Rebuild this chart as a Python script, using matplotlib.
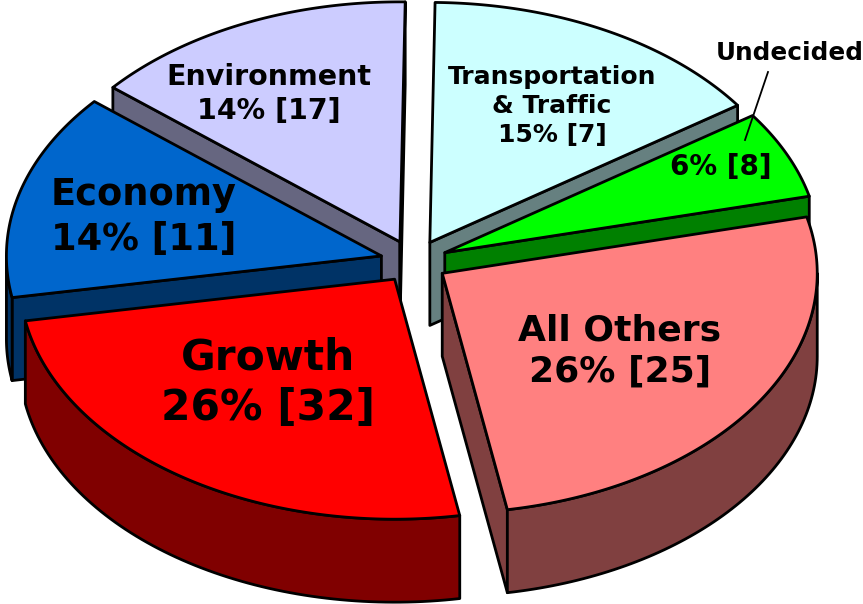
import numpy as np
import matplotlib
matplotlib.use("Agg")
import matplotlib.pyplot as plt
from matplotlib.patches import Polygon

# clockwise from the top of the pie
categories = ["Transportation\n& Traffic", "Undecided", "All Others", "Growth", "Economy", "Environment"]
percents = [15, 6, 26, 26, 14, 14]
counts = [7, 8, 25, 32, 11, 17]
# slice sizes as measured on the picture, the printed percents are rounded
shares = [15.1, 5.9, 26.0, 25.0, 13.9, 14.1]

top_colors = ["#CCFFFF", "#00FF00", "#FF8080", "#FF0000", "#0066CC", "#CCCCFF"]
side_colors = ["#668080", "#008000", "#804040", "#800000", "#003366", "#666680"]

cx, cy = 414, 261.5
rx, ry = 375, 240
explode = 0.09
depth = 83
start = 0.8

# back to front
draw_order = [5, 0, 1, 4, 2, 3]

fig = plt.figure(figsize=(8.63, 6.04), dpi=100)
ax = fig.add_axes([0, 0, 1, 1])
ax.set_xlim(0, 863)
ax.set_ylim(604, 0)
ax.axis("off")


def rim(t, ax0, ay0):
    t = np.radians(t)
    return np.column_stack([ax0 + rx * np.sin(t), ay0 - ry * np.cos(t)])


edges = start + np.cumsum([0] + shares) * 360 / sum(shares)

for z, i in enumerate(draw_order):
    t0, t1 = edges[i], edges[i + 1]
    mid = np.radians((t0 + t1) / 2)
    ax0 = cx + explode * rx * np.sin(mid)
    ay0 = cy - explode * ry * np.cos(mid)
    kw = dict(ec="black", lw=2, joinstyle="round", zorder=z + 1)
    down = np.array([0, depth])
    apex = np.array([ax0, ay0])

    # radial walls that face the viewer
    if np.sin(np.radians(t0)) < 0:
        p = rim(np.array([t0]), ax0, ay0)[0]
        ax.add_patch(Polygon([apex, p, p + down, apex + down], fc=side_colors[i], **kw))
    if np.sin(np.radians(t1)) > 0:
        p = rim(np.array([t1]), ax0, ay0)[0]
        ax.add_patch(Polygon([apex, p, p + down, apex + down], fc=side_colors[i], **kw))

    # outer wall, front half only
    a, b = max(t0, 90), min(t1, 270)
    if b > a:
        arc = rim(np.linspace(a, b, 80), ax0, ay0)
        ax.add_patch(Polygon(np.vstack([arc, arc[::-1] + down]), fc=side_colors[i], **kw))

    arc = rim(np.linspace(t0, t1, 120), ax0, ay0)
    ax.add_patch(Polygon(np.vstack([apex, arc]), fc=top_colors[i], **kw))

font = "DejaVu Sans"
label_pos = [(552, 106), (721, 167), (620, 351), (268, 383), (144, 217), (269, 94)]
label_size = [18, 20, 26, 30.5, 26.5, 20.5]
for i in range(len(categories)):
    if categories[i] == "Undecided":
        s = "%d%% [%d]" % (percents[i], counts[i])
    else:
        s = "%s\n%d%% [%d]" % (categories[i], percents[i], counts[i])
    ax.text(label_pos[i][0], label_pos[i][1], s, ha="center", va="center", family=font,
            weight="bold", fontsize=label_size[i], linespacing=1.25, zorder=20)

ax.text(790, 53, "Undecided", ha="center", va="center", family=font, weight="bold",
        fontsize=17.8, zorder=20)
ax.plot([768, 745], [72, 140], color="black", lw=1.3, zorder=20)

fig.savefig("out.png", dpi=100)
